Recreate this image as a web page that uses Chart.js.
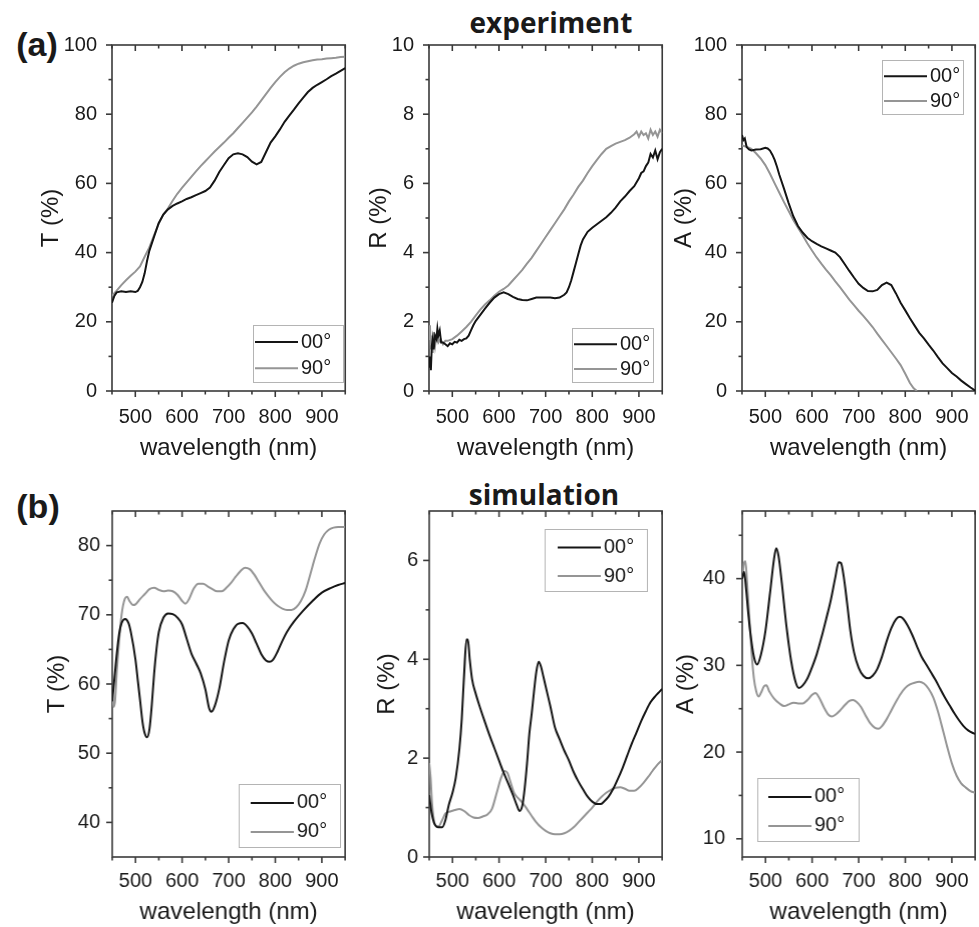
<!DOCTYPE html>
<html><head><meta charset="utf-8">
<script src="https://cdn.jsdelivr.net/npm/chart.js@4/dist/chart.umd.min.js"></script>
<style>
body{margin:0;background:#fff;width:979px;height:927px;position:relative;overflow:hidden;font-family:"Liberation Sans",Arial,sans-serif;}
canvas{position:absolute;}
.lab{position:absolute;color:#1a1a1a;white-space:nowrap;transform:translate(-50%,-50%);line-height:1;}
</style></head><body>
<div class="lab" style="left:37px;top:44px;font-size:34px;font-weight:bold;">(a)</div>
<div class="lab" style="left:38px;top:506px;font-size:34px;font-weight:bold;">(b)</div>
<div class="lab" style="left:551px;top:22px;font-size:28px;font-weight:bold;font-family:'Open Sans',sans-serif;">experiment</div>
<div class="lab" style="left:544px;top:494px;font-size:28px;font-weight:bold;font-family:'Open Sans',sans-serif;">simulation</div>
<canvas id="c1"></canvas><canvas id="c2"></canvas><canvas id="c3"></canvas>
<canvas id="c4"></canvas><canvas id="c5"></canvas><canvas id="c6"></canvas>
<script>
// ---------- tick labels ----------
const xTicks = [500, 600, 700, 800, 900];
const xMinor = [450, 550, 650, 750, 850, 950];
const yTicksPct = [0, 20, 40, 60, 80, 100];
const yMinorPct = [10, 30, 50, 70, 90];
const yTicksRexp = [0, 2, 4, 6, 8, 10];
const yMinorRexp = [1, 3, 5, 7, 9];
const yTicksTsim = [40, 50, 60, 70, 80];
const yMinorTsim = [45, 55, 65, 75];
const yTicksRsim = [0, 2, 4, 6];
const yMinorRsim = [1, 3, 5];
const yTicksAsim = [10, 20, 30, 40];
const yMinorAsim = [15, 25, 35, 45];
const seriesLabels = ['00°', '90°'];

// ---------- experiment: T ----------
const wlTexp00 = [450,455,460,470,480,490,500,505,510,515,520,525,530,540,550,560,570,580,590,600,610,620,630,640,650,660,670,680,690,700,710,720,730,740,750,760,770,780,790,800,810,820,830,840,850,860,870,880,890,900,910,920,930,940,950];
const Texp00 = [25.5,27.5,28.5,28.8,28.6,28.8,28.6,28.9,30,31.5,34,37.5,40.5,44.5,48.5,51,52.5,53.5,54.2,54.8,55.5,56,56.6,57.2,57.8,58.8,60.8,63.3,65.3,67.3,68.4,68.7,68.4,67.6,66.3,65.5,66.2,69,71.8,73.6,75.6,77.8,79.6,81.3,83.1,84.8,86.4,87.6,88.5,89.3,90.1,91,91.7,92.5,93.3];
const wlTexp90 = [450,460,470,480,490,500,510,520,530,540,550,560,570,580,590,600,610,620,630,640,650,660,670,680,690,700,710,720,730,740,750,760,770,780,790,800,810,820,830,840,850,860,870,880,890,900,910,920,930,940,950];
const Texp90 = [27.5,29,30.6,32,33.3,34.5,36,38.8,41.5,45,48.3,51,52.8,55,57,58.7,60.3,61.9,63.5,65,66.4,67.8,69.2,70.5,71.8,73.2,74.5,76,77.5,79,80.5,82.2,84,85.8,87.6,89.3,90.8,92.1,93.2,94,94.6,95,95.3,95.6,95.8,95.9,96.1,96.2,96.3,96.5,96.6];

// ---------- experiment: R ----------
const wlRexp00 = [450,452,454,456,458,460,463,466,468,470,473,476,480,485,490,495,500,505,510,515,520,525,530,535,540,545,550,560,570,580,590,600,610,620,630,640,650,660,670,680,690,700,710,720,730,740,745,750,755,760,765,770,775,780,790,800,810,820,830,840,850,860,870,880,890,900,905,910,915,920,925,930,935,940,945,950];
const Rexp00 = [0.7,1.0,0.6,1.3,1.5,1.2,1.6,1.5,1.8,1.6,1.75,1.4,1.4,1.35,1.3,1.38,1.35,1.42,1.4,1.48,1.45,1.5,1.52,1.6,1.75,1.9,2.02,2.2,2.38,2.55,2.7,2.8,2.85,2.8,2.72,2.66,2.63,2.62,2.66,2.7,2.7,2.7,2.7,2.68,2.7,2.78,2.85,3.0,3.2,3.45,3.7,3.95,4.2,4.38,4.6,4.72,4.82,4.92,5.02,5.15,5.3,5.48,5.62,5.78,5.92,6.15,6.3,6.35,6.5,6.6,6.85,6.75,6.95,6.7,6.9,7.0];
const wlRexp90 = [450,452,454,456,458,460,463,466,470,475,480,485,490,500,510,520,530,540,550,560,570,580,590,600,610,620,630,640,650,660,670,680,690,700,710,720,730,740,750,760,770,780,790,800,810,820,830,840,850,860,870,880,890,895,900,905,910,915,920,925,930,935,940,945,950];
const Rexp90 = [1.5,1.9,1.2,1.6,1.1,1.7,1.3,1.6,1.4,1.5,1.35,1.45,1.45,1.5,1.6,1.72,1.85,2.0,2.18,2.35,2.5,2.62,2.75,2.87,2.95,3.05,3.2,3.35,3.5,3.68,3.85,4.05,4.25,4.45,4.65,4.85,5.05,5.25,5.48,5.68,5.9,6.08,6.3,6.5,6.68,6.85,7.0,7.08,7.15,7.2,7.25,7.32,7.42,7.5,7.35,7.5,7.4,7.45,7.3,7.55,7.4,7.5,7.35,7.55,7.45];

// ---------- experiment: A ----------
const wlAexp00 = [450,453,456,460,465,470,480,490,500,505,510,515,520,525,530,540,550,560,570,580,590,600,610,620,630,640,650,660,670,680,690,700,710,720,730,740,750,760,770,780,790,800,810,820,830,840,850,860,870,880,890,900,910,920,930,940,950];
const Aexp00 = [74,72.5,73,70.5,69.8,69.5,69.8,69.9,70.3,70.1,69.5,68.3,66.8,64.8,62.5,58.5,54.3,50.5,47.7,45.8,44.3,43.3,42.5,41.8,41.2,40.6,40,38.7,36.7,34.7,32.8,31,29.8,28.9,28.8,29.2,30.6,31.3,30.6,28.2,25.5,23.3,21,18.9,16.8,15.2,13.4,11.7,9.8,8,6.6,5.2,4.2,3,2,1,0.1];
const wlAexp90 = [450,460,470,480,490,500,510,520,530,540,550,560,570,580,590,600,610,620,630,640,650,660,670,680,690,700,710,720,730,740,750,760,770,780,790,800,810,818,825];
const Aexp90 = [71,70.6,70,68.7,67.2,65.3,62.8,60,57.3,54.6,52,49.4,47.2,45,42.7,40.6,38.6,36.8,35.1,33.5,31.7,30,28.2,26.4,24.8,23.2,21.7,20.1,18.5,16.6,14.8,13,11.2,9.4,7.5,5.0,2.3,0.8,0];

// ---------- simulation: T ----------
const wlTsim00 = [450,455,460,465,470,478,485,490,500,505,510,515,520,525,530,535,540,545,550,560,570,580,590,600,610,620,630,640,650,658,663,670,680,690,700,710,720,730,740,750,760,770,780,788,795,805,815,825,840,860,880,900,920,935,950];
const Tsim00 = [57.5,61,64.5,67.3,68.8,69.4,68.8,67.5,63.5,60.5,57.5,54.5,52.8,52.3,53.5,57,61.5,65,67.5,69.6,70.2,70.1,69.6,68.6,66.5,64.4,63,61.5,59.2,56.5,56,56.8,59.4,63.2,66.3,67.9,68.7,68.8,68.3,67.3,65.8,64.3,63.4,63.2,63.5,64.7,66.2,67.5,69,70.6,72,73.2,73.9,74.3,74.6];
const wlTsim90 = [450,453,456,460,465,470,477,482,487,495,500,510,520,530,540,550,560,570,580,590,600,607,615,625,635,645,655,665,675,685,695,705,715,725,735,745,755,765,775,785,795,805,815,825,835,845,855,865,875,885,895,905,915,925,935,950];
const Tsim90 = [58.5,56.7,57.5,62,66.5,70,72.3,72.6,72,71.4,71.5,72.3,73,73.7,73.9,73.6,73.4,73.5,73.4,72.9,72,71.6,72.3,73.8,74.5,74.5,74.1,73.7,73.4,73.4,73.9,74.6,75.5,76.3,76.8,76.6,75.8,74.7,73.6,72.7,71.9,71.3,70.9,70.7,70.7,71.1,72,73.5,75.8,78.2,80.3,81.6,82.3,82.6,82.7,82.7];

// ---------- simulation: R ----------
const wlRsim00 = [450,455,460,465,470,478,485,492,500,507,515,520,525,530,533,537,542,550,560,570,580,590,600,610,620,630,638,644,650,655,660,665,670,675,680,685,690,695,700,705,710,720,730,740,750,760,770,780,790,800,810,818,825,835,845,855,865,875,885,895,905,915,925,935,945,950];
const Rsim00 = [1.25,0.9,0.7,0.62,0.6,0.6,0.75,1.05,1.3,1.6,2.2,2.8,3.7,4.4,4.4,4.0,3.6,3.3,3.0,2.72,2.45,2.2,1.95,1.7,1.48,1.25,1.05,0.93,1.05,1.4,1.9,2.5,2.9,3.35,3.75,3.95,3.85,3.65,3.45,3.25,3.05,2.62,2.38,2.15,1.95,1.72,1.53,1.37,1.22,1.12,1.07,1.07,1.12,1.22,1.38,1.58,1.8,2.05,2.3,2.52,2.75,2.95,3.13,3.25,3.35,3.4];
const wlRsim90 = [450,453,456,460,465,470,478,485,495,505,515,525,535,545,555,565,575,585,595,605,612,618,625,632,640,650,660,670,680,690,700,710,720,730,740,750,760,770,780,790,800,810,820,830,840,850,860,870,880,890,900,910,920,930,940,950];
const Rsim90 = [1.9,1.6,1.1,0.75,0.62,0.62,0.75,0.88,0.92,0.95,0.97,0.93,0.85,0.8,0.79,0.82,0.86,0.98,1.3,1.62,1.74,1.7,1.5,1.3,1.2,1.1,0.97,0.83,0.7,0.6,0.53,0.48,0.46,0.46,0.48,0.53,0.6,0.7,0.8,0.9,1.0,1.12,1.22,1.3,1.36,1.4,1.41,1.38,1.34,1.34,1.4,1.5,1.62,1.75,1.87,1.96];

// ---------- simulation: A ----------
const wlAsim00 = [450,454,458,463,468,475,482,490,500,510,518,523,528,535,545,555,565,572,580,590,600,610,620,630,640,650,657,662,668,675,682,690,700,710,720,730,740,750,760,770,780,788,795,805,815,825,835,845,855,865,875,885,895,905,915,925,935,945,950];
const Asim00 = [40,40.8,39,36,33.5,31,30.1,31.2,34,38.5,42.2,43.5,42.6,39.5,34.5,30.5,28,27.4,27.7,28.5,29.8,31.3,33.2,35.3,37.5,40.2,41.9,41.8,40.2,37.2,34,31.5,29.7,28.8,28.5,28.8,29.6,31,32.8,34.3,35.3,35.6,35.4,34.6,33.5,32.2,31,30.1,29.2,28.3,27.3,26.3,25.4,24.5,23.7,23.0,22.5,22.2,22.1];
const wlAsim90 = [450,454,457,460,464,470,475,480,485,490,497,502,508,518,530,540,550,560,570,580,590,600,607,615,625,635,642,650,660,670,680,688,695,705,715,725,735,743,750,760,770,780,790,800,810,820,830,840,850,860,870,880,890,900,910,920,930,940,950];
const Asim90 = [40,41.8,42,40,36.5,31.5,28.5,27,26.4,26.8,27.6,27.7,27,26.2,25.6,25.3,25.5,25.7,25.6,25.6,26,26.6,26.8,26.3,25.2,24.3,24.1,24.3,24.8,25.4,25.9,26.0,25.8,25.2,24.2,23.3,22.8,22.7,23,23.8,24.8,25.8,26.7,27.4,27.8,28.0,28.1,27.9,27.3,26.3,24.7,22.7,20.6,18.7,17.3,16.4,15.9,15.5,15.3];

// ---------- panels ----------
const FONT = '"Liberation Sans", Arial, sans-serif';
const panels = [
  {id:'c1', area:[112,45,345,391], yW:75, xH:72, yPad:15, xPad:14, yMin:0, yMax:100, yMajor:yTicksPct, yMinor:yMinorPct, title:'T (%)', smooth:false,
   series:[[wlTexp00,Texp00],[wlTexp90,Texp90]], legend:[141,280,90,57,2]},
  {id:'c2', area:[429,45,662,391], yW:64, xH:72, yPad:15, xPad:14, yMin:0, yMax:10, yMajor:yTicksRexp, yMinor:yMinorRexp, title:'R (%)', smooth:false,
   series:[[wlRexp00,Rexp00],[wlRexp90,Rexp90]], legend:[143,283,81,54,2]},
  {id:'c3', area:[742,45,975,391], yW:72, xH:72, yPad:15, xPad:14, yMin:0, yMax:100, yMajor:yTicksPct, yMinor:yMinorPct, title:'A (%)', smooth:false,
   series:[[wlAexp00,Aexp00],[wlAexp90,Aexp90]], legend:[140,15,81,54,2]},
  {id:'c4', area:[112,511,345,857], yW:69, xH:70, yPad:12, xPad:12, yMin:35, yMax:85, yMajor:yTicksTsim, yMinor:yMinorTsim, title:'T (%)', smooth:true,
   series:[[wlTsim00,Tsim00],[wlTsim90,Tsim90]], legend:[126,273,101,63,12]},
  {id:'c5', area:[429,511,662,857], yW:56, xH:70, yPad:11, xPad:12, yMin:0, yMax:7, yMajor:yTicksRsim, yMinor:yMinorRsim, title:'R (%)', smooth:true,
   series:[[wlRsim00,Rsim00],[wlRsim90,Rsim90]], legend:[115,18,102,62,13]},
  {id:'c6', area:[742,511,975,857], yW:70, xH:70, yPad:17, xPad:12, yMin:7.9, yMax:47.8, yMajor:yTicksAsim, yMinor:yMinorAsim, title:'A (%)', smooth:true,
   series:[[wlAsim00,Asim00],[wlAsim90,Asim90]], legend:[15,267,101,63,11]}
];
const colors = ['#151515', '#959595'];

const framePlugin = {
  id: 'frame',
  beforeDatasetsDraw(chart, args, o) {
    const {ctx, chartArea: a, scales: {x, y}} = chart;
    ctx.save();
    ctx.strokeStyle = '#3a3a3a';
    ctx.lineWidth = 1.6;
    ctx.strokeRect(a.left, a.top, a.right - a.left, a.bottom - a.top);
    const seg = (x1, y1, x2, y2) => { ctx.beginPath(); ctx.moveTo(x1, y1); ctx.lineTo(x2, y2); ctx.stroke(); };
    xTicks.forEach(v => { const p = x.getPixelForValue(v); seg(p, a.bottom, p, a.bottom + 6); seg(p, a.top, p, a.top + 6); });
    xMinor.forEach(v => { const p = x.getPixelForValue(v); seg(p, a.bottom, p, a.bottom + 3.5); seg(p, a.top, p, a.top + 3.5); });
    o.yMajor.forEach(v => { const p = y.getPixelForValue(v); seg(a.left - 6, p, a.left, p); });
    o.yMinor.forEach(v => { const p = y.getPixelForValue(v); if (p > a.top + 1 && p < a.bottom - 1) seg(a.left - 3.5, p, a.left, p); });
    ctx.restore();
  },
  afterDatasetsDraw(chart, args, o) {
    const {ctx, chartArea: a} = chart;
    const [bx, by, bw, bh, inset] = o.legend;
    const X = a.left + bx, Y = a.top + by;
    ctx.save();
    ctx.fillStyle = '#fff';
    ctx.fillRect(X, Y, bw, bh);
    ctx.strokeStyle = '#b4b4b4';
    ctx.lineWidth = 1;
    ctx.strokeRect(X + 0.5, Y + 0.5, bw, bh);
    ctx.font = '20px ' + FONT;
    ctx.textBaseline = 'middle';
    ctx.fillStyle = '#1a1a1a';
    chart.data.datasets.forEach((ds, i) => {
      const ry = Y + bh * (i === 0 ? 0.3 : 0.76);
      ctx.strokeStyle = ds.borderColor;
      ctx.lineWidth = 2;
      ctx.beginPath(); ctx.moveTo(X + inset, ry); ctx.lineTo(X + inset + 43, ry); ctx.stroke();
      ctx.fillText(ds.label, X + inset + 46, ry);
    });
    ctx.restore();
  }
};

function makeConfig(p) {
  return {
    type: 'line',
    data: {
      datasets: p.series.map((s, i) => ({
        label: seriesLabels[i],
        data: s[0].map((xv, k) => ({x: xv, y: s[1][k]})),
        borderColor: colors[i],
        borderWidth: 2,
        pointRadius: 0,
        fill: false,
        tension: p.smooth ? 0.4 : 0,
        cubicInterpolationMode: p.smooth ? 'monotone' : 'default'
      }))
    },
    options: {
      responsive: false, animation: false, devicePixelRatio: 1,
      layout: {padding: {top: 15, right: 4, left: 0, bottom: 0}},
      plugins: {
        legend: {display: false}, tooltip: {enabled: false},
        frame: {yMajor: p.yMajor, yMinor: p.yMinor, legend: p.legend}
      },
      scales: {
        x: {
          type: 'linear', min: 450, max: 950,
          grid: {display: false, drawTicks: false}, border: {display: false},
          afterBuildTicks: s => { s.ticks = xTicks.map(v => ({value: v})); },
          afterFit: s => { s.height = p.xH; },
          ticks: {padding: p.xPad, color: '#1a1a1a', font: {family: FONT, size: 20}, maxRotation: 0, autoSkip: false},
          title: {display: true, text: 'wavelength (nm)', color: '#1a1a1a', font: {family: FONT, size: 24}, padding: 0}
        },
        y: {
          type: 'linear', min: p.yMin, max: p.yMax,
          grid: {display: false, drawTicks: false}, border: {display: false},
          afterBuildTicks: s => { s.ticks = p.yMajor.map(v => ({value: v})); },
          afterFit: s => { s.width = p.yW; },
          ticks: {padding: p.yPad, color: '#1a1a1a', font: {family: FONT, size: 20}, autoSkip: false},
          title: {display: true, text: p.title, color: '#1a1a1a', font: {family: FONT, size: 24}, padding: 0}
        }
      }
    },
    plugins: [framePlugin]
  };
}

panels.forEach(p => {
  const [L, T, R, B] = p.area;
  const cv = document.getElementById(p.id);
  let w = R + 4 - (L - p.yW), h = B + p.xH - (T - 15);
  cv.width = w; cv.height = h;
  let chart = new Chart(cv, makeConfig(p));
  // correct canvas size so the plot area has the wanted size
  const a = chart.chartArea;
  w += (R - L) - (a.right - a.left);
  h += (B - T) - (a.bottom - a.top);
  chart.destroy();
  cv.width = w; cv.height = h;
  chart = new Chart(cv, makeConfig(p));
  const a2 = chart.chartArea;
  cv.style.left = (L - a2.left) + 'px';
  cv.style.top = (T - a2.top) + 'px';
  cv.style.width = w + 'px'; cv.style.height = h + 'px';
});
</script>
</body></html>
